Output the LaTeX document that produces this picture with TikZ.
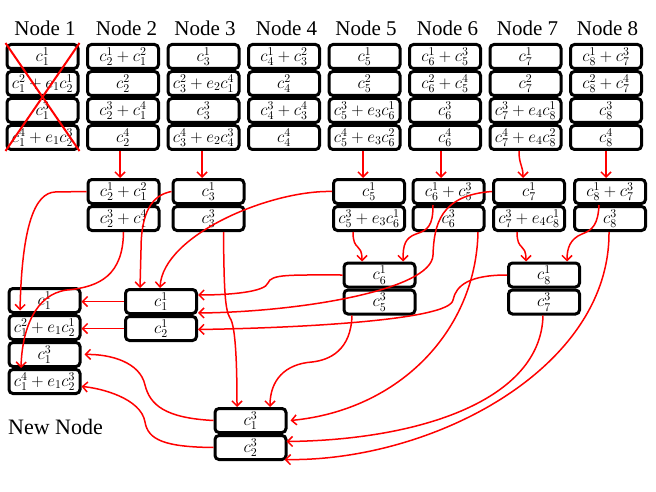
\RequirePackage{fix-cm}
\documentclass[tikz,border=0pt]{standalone}
\usepackage{fontspec}
\setmainfont{Liberation Serif}
\usetikzlibrary{arrows.meta,calc}
\begin{document}
\begin{tikzpicture}[x=1pt,y=-1pt,
  cell/.style={draw, line width=3pt, rounded corners=4pt, minimum width=71pt, minimum height=24pt, inner sep=0pt, font=\fontsize{17}{20}\selectfont},
  lab/.style={font=\fontsize{21}{25}\selectfont, inner sep=0pt},
  con/.style={draw=red, line width=1.5pt, -{Straight Barb[length=5pt,width=10pt]}},
  cross/.style={draw=red, line width=2pt}]
\useasboundingbox (0,0) rectangle (656,492);
% labels
\node[lab,anchor=base] (t1) at (45,36) {Node 1};
\node[lab,anchor=base] (t2) at (126.5,36) {Node 2};
\node[lab,anchor=base] (t3) at (205,36) {Node 3};
\node[lab,anchor=base] (t4) at (286.5,36) {Node 4};
\node[lab,anchor=base] (t5) at (366,36) {Node 5};
\node[lab,anchor=base] (t6) at (447.5,36) {Node 6};
\node[lab,anchor=base] (t7) at (527.5,36) {Node 7};
\node[lab,anchor=base] (t8) at (607.5,36) {Node 8};
\node[lab,anchor=base west,font=\fontsize{22}{26}\selectfont] (tn) at (8,434) {New Node};
% top row
\node[cell] (n1a) at (42.5,56.5) {$c^1_1$};
\node[cell] (n1b) at (42.5,83.5) {$c^2_1+e_1c^1_2$};
\node[cell] (n1c) at (42.5,110.5) {$c^3_1$};
\node[cell] (n1d) at (42.5,137.5) {$c^4_1+e_1c^3_2$};
\node[cell] (n2a) at (123,56.5) {$c^1_2+c^2_1$};
\node[cell] (n2b) at (123,83.5) {$c^2_2$};
\node[cell] (n2c) at (123,110.5) {$c^3_2+c^4_1$};
\node[cell] (n2d) at (123,137.5) {$c^4_2$};
\node[cell] (n3a) at (203.5,56.5) {$c^1_3$};
\node[cell] (n3b) at (203.5,83.5) {$c^2_3+e_2c^4_1$};
\node[cell] (n3c) at (203.5,110.5) {$c^3_3$};
\node[cell] (n3d) at (203.5,137.5) {$c^4_3+e_2c^3_4$};
\node[cell] (n4a) at (284,56.5) {$c^1_4+c^2_3$};
\node[cell] (n4b) at (284,83.5) {$c^2_4$};
\node[cell] (n4c) at (284,110.5) {$c^3_4+c^4_3$};
\node[cell] (n4d) at (284,137.5) {$c^4_4$};
\node[cell] (n5a) at (364.5,56.5) {$c^1_5$};
\node[cell] (n5b) at (364.5,83.5) {$c^2_5$};
\node[cell] (n5c) at (364.5,110.5) {$c^3_5+e_3c^1_6$};
\node[cell] (n5d) at (364.5,137.5) {$c^4_5+e_3c^2_6$};
\node[cell] (n6a) at (445,56.5) {$c^1_6+c^3_5$};
\node[cell] (n6b) at (445,83.5) {$c^2_6+c^4_5$};
\node[cell] (n6c) at (445,110.5) {$c^3_6$};
\node[cell] (n6d) at (445,137.5) {$c^4_6$};
\node[cell] (n7a) at (525.5,56.5) {$c^1_7$};
\node[cell] (n7b) at (525.5,83.5) {$c^2_7$};
\node[cell] (n7c) at (525.5,110.5) {$c^3_7+e_4c^1_8$};
\node[cell] (n7d) at (525.5,137.5) {$c^4_7+e_4c^2_8$};
\node[cell] (n8a) at (606,56.5) {$c^1_8+c^3_7$};
\node[cell] (n8b) at (606,83.5) {$c^2_8+c^4_7$};
\node[cell] (n8c) at (606,110.5) {$c^3_8$};
\node[cell] (n8d) at (606,137.5) {$c^4_8$};
% middle row
\node[cell] (m2a) at (123.5,191.5) {$c^1_2+c^2_1$};
\node[cell] (m2b) at (123.5,218.5) {$c^3_2+c^4_1$};
\node[cell] (m3a) at (208.5,191.5) {$c^1_3$};
\node[cell] (m3b) at (208.5,218.5) {$c^3_3$};
\node[cell] (m5a) at (369,191.5) {$c^1_5$};
\node[cell] (m5b) at (369,218.5) {$c^3_5+e_3c^1_6$};
\node[cell] (m6a) at (448.5,191.5) {$c^1_6+c^3_5$};
\node[cell] (m6b) at (448.5,218.5) {$c^3_6$};
\node[cell] (m7a) at (529,191.5) {$c^1_7$};
\node[cell] (m7b) at (529,218.5) {$c^3_7+e_4c^1_8$};
\node[cell] (m8a) at (610,191.5) {$c^1_8+c^3_7$};
\node[cell] (m8b) at (610,218.5) {$c^3_8$};
% third level
\node[cell] (la) at (161,301.5) {$c^1_1$};
\node[cell] (lb) at (161,328.5) {$c^1_2$};
\node[cell] (ra) at (379.5,275) {$c^1_6$};
\node[cell] (rb) at (379.5,302) {$c^3_5$};
\node[cell] (sa) at (544,275) {$c^1_8$};
\node[cell] (sb) at (544,302) {$c^3_7$};
% new node
\node[cell] (wa) at (44.5,300.5) {$c^1_1$};
\node[cell] (wb) at (44.5,327.5) {$c^2_1+e_1c^1_2$};
\node[cell] (wc) at (44.5,354.5) {$c^3_1$};
\node[cell] (wd) at (44.5,381.5) {$c^4_1+e_1c^3_2$};
% fourth level
\node[cell] (ka) at (250.5,420.5) {$c^3_1$};
\node[cell] (kb) at (250.5,447.5) {$c^3_2$};
% cross on node 1
\draw[cross] (n1a.north west) -- (n1d.south east);
\draw[cross] (n1a.north east) -- (n1d.south west);
% connectors top -> middle
\draw[con] ($(n2d.south)+(-3,0)$) -- ($(m2a.north)+(-3.5,0)$);
\draw[con] ($(n3d.south)+(-1.5,0)$) -- ($(m3a.north)+(-6.5,0)$);
\draw[con] ($(n5d.south)+(-1.5,0)$) -- ($(m5a.north)+(-6,0)$);
\draw[con] ($(n6d.south)+(-4,0)$) -- ($(m6a.north)+(-7.5,0)$);
\draw[con] ($(n7d.south)+(-6.5,0)$) .. controls (519,165) and (523,165) .. ($(m7a.north)+(-6,0)$);
\draw[con] (n8d.south) -- ($(m8a.north)+(-4,0)$);
% middle -> lower
\draw[con] (m2a.west) -- (55,192) .. controls (35,193) and (22,225) .. ($(wa.center)+(-24.5,10)$);
\draw[con] (m2b.south) .. controls (123,275) and (100,287) .. (67,290) .. controls (35,294) and (22,330) .. ($(wd.north)+(-23.5,0)$);
\draw[con] (m3a.west) .. controls (152,195) and (141,212) .. (141,250) -- ($(la.north)+(-21,0)$);
\draw[con] ($(m3b.south)+(15,0)$) .. controls (224,290) and (225,310) .. (230,318) .. controls (236,326) and (237,370) .. ($(ka.north)+(-13.5,0)$);
\draw[con] (m5a.west) .. controls (270,190) and (163,235) .. ($(la.north)+(-1,0)$);
\draw[con] ($(m5b.south)+(-16,0)$) .. controls (353,252) and (362,242) .. ($(ra.north)+(-17.5,0)$);
\draw[con] ($(m6a.south)+(-15.5,0)$) .. controls (433,226) and (428,230) .. (416,234) .. controls (405,238) and (403,245) .. ($(ra.north)+(23.5,0)$);
\draw[con] ($(m6b.south)+(29.5,0)$) .. controls (476,330) and (400,410) .. ($(ka.east)+(3,0)$);
\draw[con] (m7a.west) .. controls (440,195) and (434,225) .. (433,255) .. controls (432,290) and (300,312) .. ($(la.east)+(0,11.5)$);
\draw[con] ($(m7b.south)+(-12,0)$) .. controls (517,252) and (526,242) .. ($(sa.north)+(-18,0)$);
\draw[con] ($(m8a.south)+(-11,0)$) .. controls (598,224) and (593,230) .. (582,234) .. controls (570,239) and (567,248) .. ($(sa.north)+(23,0)$);
\draw[con] ($(m8b.south)+(-1,0)$) .. controls (610,370) and (430,462) .. ($(kb.east)+(-3,12)$);
% third level -> left / down
\draw[con] (ra.west) .. controls (290,275) and (271,274) .. (268,283) .. controls (265,292) and (230,295) .. ($(la.east)+(0,-6.5)$);
\draw[con] (sa.west) .. controls (470,275) and (456,285) .. (453,300) .. controls (450,320) and (300,328) .. ($(lb.east)+(0,1)$);
\draw[con] ($(rb.south)+(-27.5,0)$) .. controls (351,350) and (330,360) .. (312,362) .. controls (285,364) and (270,380) .. ($(ka.north)+(19.5,0)$);
\draw[con] ($(sb.south)+(-1,0)$) .. controls (541,400) and (420,440) .. ($(kb.east)+(-1,-6)$);
\draw[con] (la.west) -- (la.west -| wa.east);
\draw[con] (lb.west) -- (lb.west -| wb.east);
% fourth level -> new node
\draw[con] (ka.west) .. controls (165,418) and (150,405) .. (145,385) .. controls (140,362) and (110,354) .. ($(wc.east)+(3,0)$);
\draw[con] (kb.west) .. controls (165,447) and (148,440) .. (145,422) .. controls (141,398) and (100,388) .. ($(wd.east)+(0,5)$);
\end{tikzpicture}
\end{document}
